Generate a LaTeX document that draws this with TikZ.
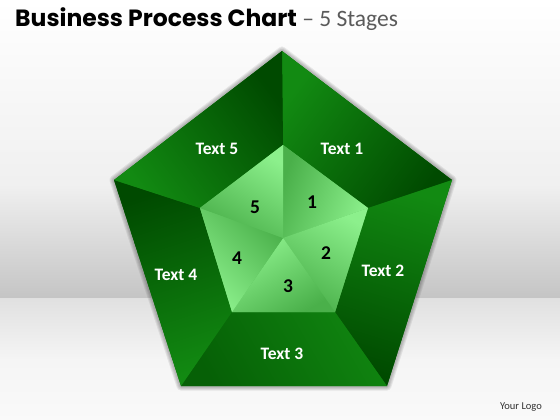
\documentclass[tikz,border=0pt]{standalone}
\usepackage{fontspec}
\setmainfont{Carlito}
\newfontfamily\poppins{Poppins}
\newfontfamily\carlito{Carlito}
\definecolor{gbright}{RGB}{18,138,18}
\definecolor{gdark}{RGB}{0,74,0}
\definecolor{gmid}{RGB}{10,110,10}
\definecolor{gthreea}{RGB}{16,132,16}
\definecolor{gthreeb}{RGB}{6,96,6}
\definecolor{ilight}{RGB}{140,240,140}
\definecolor{idark}{RGB}{74,176,74}
\definecolor{titlegray}{RGB}{90,90,90}
\definecolor{logogray}{RGB}{50,50,50}
\tikzset{
  seglabel/.style={text=white, font=\carlito\bfseries\fontsize{17.5}{20}\selectfont, inner sep=0pt},
  numlabel/.style={text=black, font=\carlito\bfseries\fontsize{19.5}{22}\selectfont, inner sep=0pt},
  outerseg/.style={top color=gbright, bottom color=gdark},
  innerseg/.style={top color=ilight, bottom color=idark},
}
\begin{document}
\begin{tikzpicture}[x=1pt,y=-1pt]
\useasboundingbox (0,0) rectangle (560,420);
% background
\shade[top color=white, bottom color=white!94!black] (0,0) rectangle (560,185);
\shade[top color=white!94!black, bottom color=white!77!black] (0,185) rectangle (560,298.5);
\shade[top color=white!88!black, bottom color=white!96!black] (0,298) rectangle (560,360);
\shade[top color=white!96!black, bottom color=white!98!black] (0,359.5) rectangle (560,420);
% coordinates
\coordinate (O1) at (282,51);
\coordinate (O2) at (452,180);
\coordinate (O3) at (387,386);
\coordinate (O4) at (181,386);
\coordinate (O5) at (114,180);
\coordinate (I1) at (283,145);
\coordinate (I2) at (368,208);
\coordinate (I3) at (335,312);
\coordinate (I4) at (232,312);
\coordinate (I5) at (200,208);
\coordinate (C) at (283,238);
% soft shadow
\foreach \w in {9,7,5,3}
  \draw[line width=\w pt, black, opacity=0.07, line join=round] (O1)--(O2)--(O3)--(O4)--(O5)--cycle;
\fill[gmid] (O1)--(O2)--(O3)--(O4)--(O5)--cycle;
% outer trapezoids
\shade[outerseg, shading angle=53] (O1)--(O2)--(I2)--(I1)--cycle;
\shade[outerseg, shading angle=-17] (O2)--(O3)--(I3)--(I2)--cycle;
\shade[top color=gthreea, bottom color=gthreeb, shading angle=-60] (O3)--(O4)--(I4)--(I3)--cycle;
\shade[outerseg, shading angle=-162] (O4)--(O5)--(I5)--(I4)--cycle;
\shade[outerseg, shading angle=127] (O5)--(O1)--(I1)--(I5)--cycle;
% inner
\fill[idark!80!ilight] (I1)--(I2)--(I3)--(I4)--(I5)--cycle;
\shade[innerseg, shading angle=-110] (C)--(I1)--(I2)--cycle;
\shade[innerseg, shading angle=-30] (C)--(I2)--(I3)--cycle;
\shade[innerseg, shading angle=30] (C)--(I3)--(I4)--cycle;
\shade[innerseg, shading angle=135] (C)--(I4)--(I5)--cycle;
\shade[innerseg, shading angle=-30] (C)--(I5)--(I1)--cycle;
% labels
\node[seglabel] (t1) at (342,149) {Text 1};
\node[seglabel] (t2) at (383,271) {Text 2};
\node[seglabel] (t3) at (282,354) {Text 3};
\node[seglabel] (t4) at (176,275) {Text 4};
\node[seglabel] (t5) at (217,149) {Text 5};
\node[numlabel] (n1) at (312,202) {1};
\node[numlabel] (n2) at (326,253) {2};
\node[numlabel] (n3) at (288,286) {3};
\node[numlabel] (n4) at (237,258) {4};
\node[numlabel] (n5) at (255,207) {5};
% title
\node[anchor=base west, inner sep=0pt] (title) at (15,27)
  {{\poppins\bfseries\fontsize{23.5}{28}\selectfont Business Process Chart}{\carlito\color{titlegray}\fontsize{23.5}{28}\selectfont\ – 5 Stages}};
\node[inner sep=0pt, text=logogray, font=\carlito\fontsize{10.5}{12}\selectfont] (logo) at (521,407) {Your Logo};
\end{tikzpicture}
\end{document}
